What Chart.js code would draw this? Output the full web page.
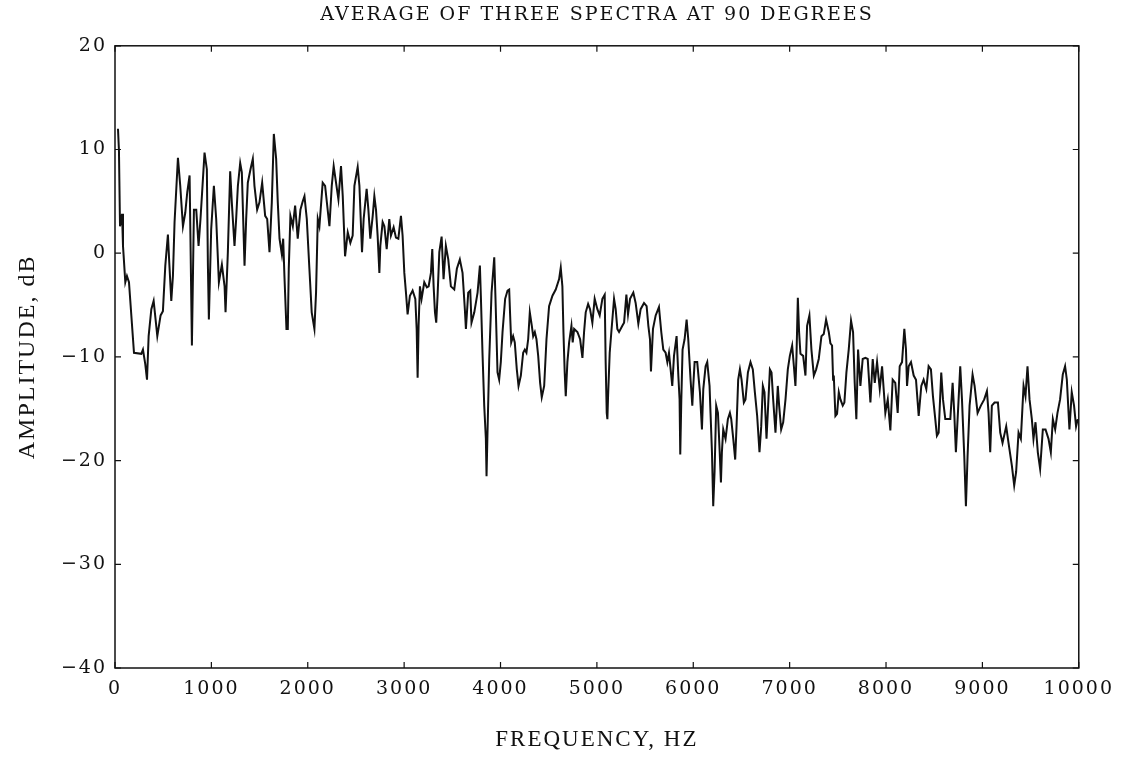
<!DOCTYPE html>
<html>
<head>
<meta charset="utf-8">
<title>Average of three spectra at 90 degrees</title>
<script src="https://cdn.jsdelivr.net/npm/chart.js@4.4.1/dist/chart.umd.min.js"></script>
<style>
  html, body { margin: 0; padding: 0; background: #fff; }
  #chart { display: block; }
</style>
</head>
<body>
<canvas id="chart" width="1124" height="765"></canvas>
<script>
// frequency (Hz) and averaged amplitude (dB)
const freqHz = [
  31, 41, 52, 73, 83, 90, 107, 124, 145, 197, 273, 290, 314, 332, 349, 377, 401, 439, 473, 497,
  522, 549, 563, 584, 601, 618, 653, 677, 705, 729, 750, 774, 798, 819, 843, 867, 887, 929, 953, 964,
  974, 998, 1026, 1050, 1078, 1109, 1137, 1147, 1171, 1195, 1212, 1240, 1257, 1275, 1299, 1316, 1344, 1361, 1378, 1406,
  1430, 1447, 1475, 1499, 1527, 1558, 1579, 1603, 1627, 1648, 1672, 1689, 1707, 1731, 1745, 1758, 1779, 1793, 1803, 1820,
  1845, 1869, 1896, 1924, 1948, 1966, 1990, 2017, 2041, 2069, 2086, 2104, 2121, 2155, 2180, 2225, 2249, 2269, 2318, 2345,
  2363, 2387, 2415, 2442, 2466, 2484, 2518, 2536, 2563, 2580, 2611, 2629, 2649, 2674, 2691, 2708, 2725, 2743, 2753, 2777,
  2795, 2819, 2846, 2863, 2891, 2915, 2940, 2967, 2984, 3002, 3019, 3036, 3060, 3088, 3116, 3130, 3140, 3150, 3164, 3181,
  3209, 3236, 3254, 3278, 3292, 3306, 3320, 3333, 3347, 3365, 3389, 3409, 3433, 3458, 3485, 3520, 3547, 3578, 3606, 3630,
  3641, 3665, 3686, 3699, 3728, 3762, 3786, 3796, 3813, 3831, 3848, 3855, 3865, 3883, 3907, 3935, 3948, 3969, 3986, 4003,
  4021, 4048, 4073, 4090, 4100, 4111, 4131, 4148, 4169, 4187, 4211, 4235, 4252, 4269, 4287, 4304, 4325, 4339, 4356, 4373,
  4391, 4411, 4428, 4453, 4477, 4504, 4539, 4573, 4608, 4625, 4642, 4653, 4666, 4677, 4694, 4712, 4736, 4749, 4764, 4798,
  4826, 4850, 4867, 4884, 4909, 4929, 4953, 4977, 5005, 5029, 5057, 5081, 5091, 5102, 5109, 5116, 5133, 5150, 5178, 5195,
  5212, 5230, 5264, 5282, 5306, 5323, 5344, 5378, 5402, 5430, 5454, 5489, 5516, 5534, 5551, 5561, 5582, 5610, 5644, 5668,
  5689, 5713, 5731, 5748, 5765, 5782, 5800, 5827, 5845, 5858, 5865, 5876, 5889, 5910, 5931, 5948, 5972, 5990, 6000, 6014,
  6041, 6069, 6090, 6104, 6128, 6145, 6169, 6179, 6194, 6207, 6221, 6238, 6256, 6273, 6287, 6297, 6311, 6335, 6359, 6380,
  6394, 6415, 6435, 6449, 6466, 6484, 6501, 6525, 6542, 6567, 6594, 6618, 6639, 6663, 6687, 6705, 6722, 6739, 6760, 6777,
  6795, 6812, 6829, 6853, 6877, 6891, 6912, 6933, 6957, 6981, 7002, 7026, 7044, 7060, 7071, 7085, 7098, 7112, 7140, 7164,
  7181, 7205, 7226, 7251, 7275, 7302, 7330, 7354, 7378, 7406, 7423, 7440, 7451, 7458, 7475, 7492, 7510, 7527, 7551, 7568,
  7589, 7613, 7637, 7658, 7675, 7692, 7710, 7734, 7758, 7786, 7810, 7838, 7862, 7883, 7907, 7935, 7959, 7993, 8018, 8045,
  8069, 8096, 8121, 8142, 8166, 8190, 8207, 8218, 8235, 8259, 8287, 8311, 8339, 8366, 8390, 8418, 8442, 8466, 8487, 8511,
  8528, 8546, 8573, 8591, 8615, 8650, 8667, 8691, 8708, 8725, 8746, 8770, 8788, 8812, 8829, 8846, 8867, 8898, 8919, 8950,
  8984, 9019, 9047, 9064, 9081, 9098, 9126, 9161, 9185, 9209, 9247, 9271, 9306, 9330, 9350, 9375, 9399, 9427, 9447, 9468,
  9489, 9513, 9530, 9551, 9575, 9599, 9627, 9655, 9686, 9710, 9731, 9755, 9779, 9806, 9834, 9858, 9876, 9903, 9927, 9951,
  9972, 9990
];

const avgDb = [
  12.0, 9.9, 2.6, 3.8, 0.7, -0.3, -2.8, -2.2, -2.8, -9.6, -9.7, -9.3, -10.7, -12.2, -8.0, -5.4, -4.6, -8.0, -6.0, -5.6,
  -1.2, 1.8, -0.9, -4.6, -2.2, 3.0, 9.2, 6.5, 2.6, 3.9, 5.9, 7.5, -8.9, 4.2, 4.2, 0.7, 3.3, 9.7, 8.1, -1.2,
  -6.4, 2.3, 6.5, 3.3, -2.8, -1.1, -3.2, -5.7, 0.1, 7.9, 4.9, 0.7, 3.3, 6.5, 8.7, 7.8, -1.2, 3.3, 6.8, 8.1,
  9.1, 6.5, 4.2, 4.9, 6.8, 3.6, 3.3, 0.1, 4.9, 11.5, 9.1, 4.9, 1.4, -0.1, 1.4, -2.2, -7.3, -7.3, -1.5, 3.6,
  2.6, 4.6, 1.4, 4.2, 5.0, 5.5, 3.3, -1.5, -5.7, -7.3, -3.8, 3.3, 2.6, 6.8, 6.5, 2.6, 6.5, 8.4, 5.2, 8.4,
  5.5, -0.3, 2.0, 1.0, 1.7, 6.5, 8.3, 6.5, 0.1, 3.3, 6.2, 4.2, 1.4, 3.6, 5.5, 4.2, 1.7, -1.9, 0.7, 3.0,
  2.6, 0.4, 3.3, 1.7, 2.5, 1.5, 1.4, 3.6, 1.7, -1.9, -3.8, -5.9, -4.1, -3.6, -4.4, -7.3, -12.0, -7.0, -3.2, -4.4,
  -2.8, -3.3, -3.2, -1.9, 0.4, -3.2, -5.7, -6.7, -4.1, 0.1, 1.6, -2.5, 0.7, -0.6, -3.2, -3.5, -1.5, -0.6, -1.9, -5.4,
  -7.3, -3.8, -3.6, -6.7, -5.7, -3.8, -1.2, -4.1, -9.6, -14.7, -17.9, -21.5, -17.3, -10.2, -3.8, -0.4, -4.4, -11.5, -12.2, -10.5,
  -7.6, -4.4, -3.6, -3.5, -6.0, -8.6, -8.0, -8.6, -11.2, -12.8, -11.8, -9.6, -9.3, -9.6, -8.3, -5.7, -7.0, -8.0, -7.6, -8.3,
  -9.9, -12.5, -13.9, -12.8, -8.3, -5.1, -4.1, -3.5, -2.5, -1.4, -3.2, -7.6, -11.5, -13.8, -10.5, -8.6, -7.0, -8.6, -7.3, -7.6,
  -8.3, -10.1, -7.6, -5.7, -4.9, -5.4, -6.7, -4.4, -5.4, -6.0, -4.4, -4.0, -10.5, -15.4, -16.0, -13.8, -9.6, -7.6, -4.4, -5.4,
  -7.3, -7.6, -7.0, -6.7, -4.0, -5.9, -4.4, -3.8, -4.8, -6.8, -5.4, -4.8, -5.1, -7.0, -8.3, -11.4, -7.3, -6.0, -5.2, -7.6,
  -9.3, -9.6, -10.5, -9.6, -11.2, -12.8, -9.9, -8.0, -11.8, -14.1, -19.4, -14.1, -9.3, -8.3, -6.4, -8.3, -12.2, -14.7, -12.8, -10.5,
  -10.5, -13.4, -17.0, -13.1, -10.9, -10.5, -12.8, -15.4, -19.2, -24.4, -21.1, -14.7, -15.4, -18.9, -22.1, -19.2, -17.0, -17.9, -16.0, -15.4,
  -16.0, -17.9, -19.9, -16.7, -12.2, -11.2, -12.2, -14.4, -14.1, -11.5, -10.5, -11.2, -13.4, -15.7, -19.2, -16.7, -12.8, -13.4, -17.9, -14.7,
  -11.2, -11.5, -14.1, -17.3, -12.8, -14.7, -17.0, -16.3, -14.1, -11.2, -9.9, -8.9, -10.9, -12.8, -9.9, -4.3, -7.6, -9.7, -9.9, -11.8,
  -7.0, -6.0, -9.3, -11.8, -11.2, -10.2, -8.0, -7.8, -6.4, -7.6, -8.7, -8.9, -12.2, -11.8, -15.7, -15.5, -13.4, -14.1, -14.7, -14.4,
  -11.5, -9.3, -6.5, -7.6, -12.5, -16.0, -9.3, -12.8, -10.2, -10.1, -10.2, -14.4, -10.2, -12.5, -10.5, -13.1, -10.9, -15.4, -14.1, -17.1,
  -12.2, -12.5, -15.4, -10.9, -10.5, -7.3, -9.3, -12.8, -10.9, -10.5, -11.8, -12.2, -15.7, -12.8, -12.2, -13.1, -10.9, -11.2, -13.8, -16.0,
  -17.6, -17.3, -11.5, -14.1, -16.0, -16.0, -16.0, -12.5, -15.4, -19.2, -15.4, -10.9, -14.1, -19.6, -24.4, -19.6, -14.7, -11.7, -12.8, -15.4,
  -14.7, -14.1, -13.3, -15.4, -19.2, -14.7, -14.4, -14.4, -17.3, -18.3, -16.7, -18.3, -20.5, -22.4, -21.1, -17.3, -17.9, -12.8, -13.8, -10.9,
  -14.1, -16.0, -17.9, -16.3, -19.2, -20.8, -17.0, -17.0, -17.9, -19.2, -16.0, -17.0, -15.4, -14.1, -11.7, -10.9, -12.2, -17.0, -13.4, -14.7,
  -16.7, -16.0
];

const xTicks = [0, 1000, 2000, 3000, 4000, 5000, 6000, 7000, 8000, 9000, 10000];
const yTicks = [-40, -30, -20, -10, 0, 10, 20];

const points = freqHz.map((f, i) => ({ x: f, y: avgDb[i] }));

const labelFont = '"DejaVu Serif", "Liberation Serif", serif';
const titleFont = '"Liberation Serif", "DejaVu Serif", serif';
const ink = '#111';

// wide letter spacing like the old plotter lettering
const spacing = {
  id: 'spacing',
  beforeUpdate(chart) { chart.ctx.letterSpacing = '2px'; },
  beforeDraw(chart) { chart.ctx.letterSpacing = '2px'; }
};

// box round the plot with tick marks pointing inward
const frame = {
  id: 'frame',
  afterDraw(chart) {
    const { ctx, chartArea: a, scales } = chart;
    const len = 6;
    ctx.save();
    ctx.strokeStyle = ink;
    ctx.lineWidth = 1.5;
    ctx.strokeRect(a.left, a.top, a.right - a.left, a.bottom - a.top);
    ctx.lineWidth = 1.2;
    ctx.beginPath();
    xTicks.forEach(v => {
      const px = scales.x.getPixelForValue(v);
      ctx.moveTo(px, a.bottom); ctx.lineTo(px, a.bottom - len);
      ctx.moveTo(px, a.top); ctx.lineTo(px, a.top + len);
    });
    yTicks.forEach(v => {
      const py = scales.y.getPixelForValue(v);
      ctx.moveTo(a.left, py); ctx.lineTo(a.left + len, py);
      ctx.moveTo(a.right, py); ctx.lineTo(a.right - len, py);
    });
    ctx.stroke();
    ctx.restore();
  }
};

new Chart(document.getElementById('chart'), {
  type: 'line',
  data: {
    datasets: [{
      data: points,
      borderColor: ink,
      borderWidth: 2,
      pointRadius: 0,
      tension: 0,
      fill: false
    }]
  },
  options: {
    responsive: false,
    devicePixelRatio: 1,
    animation: false,
    events: [],
    layout: { padding: { left: 0, right: 43, top: 0, bottom: 0 } },
    plugins: {
      legend: { display: false },
      tooltip: { enabled: false },
      title: {
        display: true,
        fullSize: false,
        text: 'AVERAGE OF THREE SPECTRA AT 90 DEGREES',
        color: ink,
        font: { family: labelFont, size: 19, weight: 'normal', lineHeight: 1.2 },
        padding: { top: 4, bottom: 19 }
      }
    },
    scales: {
      x: {
        type: 'linear',
        min: 0,
        max: 10000,
        afterBuildTicks: s => { s.ticks = xTicks.map(v => ({ value: v })); },
        afterFit: s => { s.height = 97; },
        grid: { display: false, drawTicks: false },
        border: { display: false },
        ticks: {
          color: ink,
          padding: 10,
          maxRotation: 0,
          font: { family: labelFont, size: 19 },
          callback: v => String(v)
        },
        title: {
          display: true,
          text: 'FREQUENCY, HZ',
          color: ink,
          font: { family: titleFont, size: 23, lineHeight: 1.2 },
          padding: { top: 0, bottom: 11 }
        }
      },
      y: {
        min: -40,
        max: 20,
        afterBuildTicks: s => { s.ticks = yTicks.map(v => ({ value: v })); },
        afterFit: s => { s.width = 115; },
        grid: { display: false, drawTicks: false },
        border: { display: false },
        ticks: {
          color: ink,
          padding: 8,
          font: { family: labelFont, size: 19 },
          callback: v => (v < 0 ? '\u2212' + Math.abs(v) : String(v))
        },
        title: {
          display: true,
          text: 'AMPLITUDE, dB',
          color: ink,
          font: { family: titleFont, size: 24, lineHeight: 1.2 },
          padding: { top: 13, bottom: 0 }
        }
      }
    }
  },
  plugins: [spacing, frame]
});
</script>
</body>
</html>
